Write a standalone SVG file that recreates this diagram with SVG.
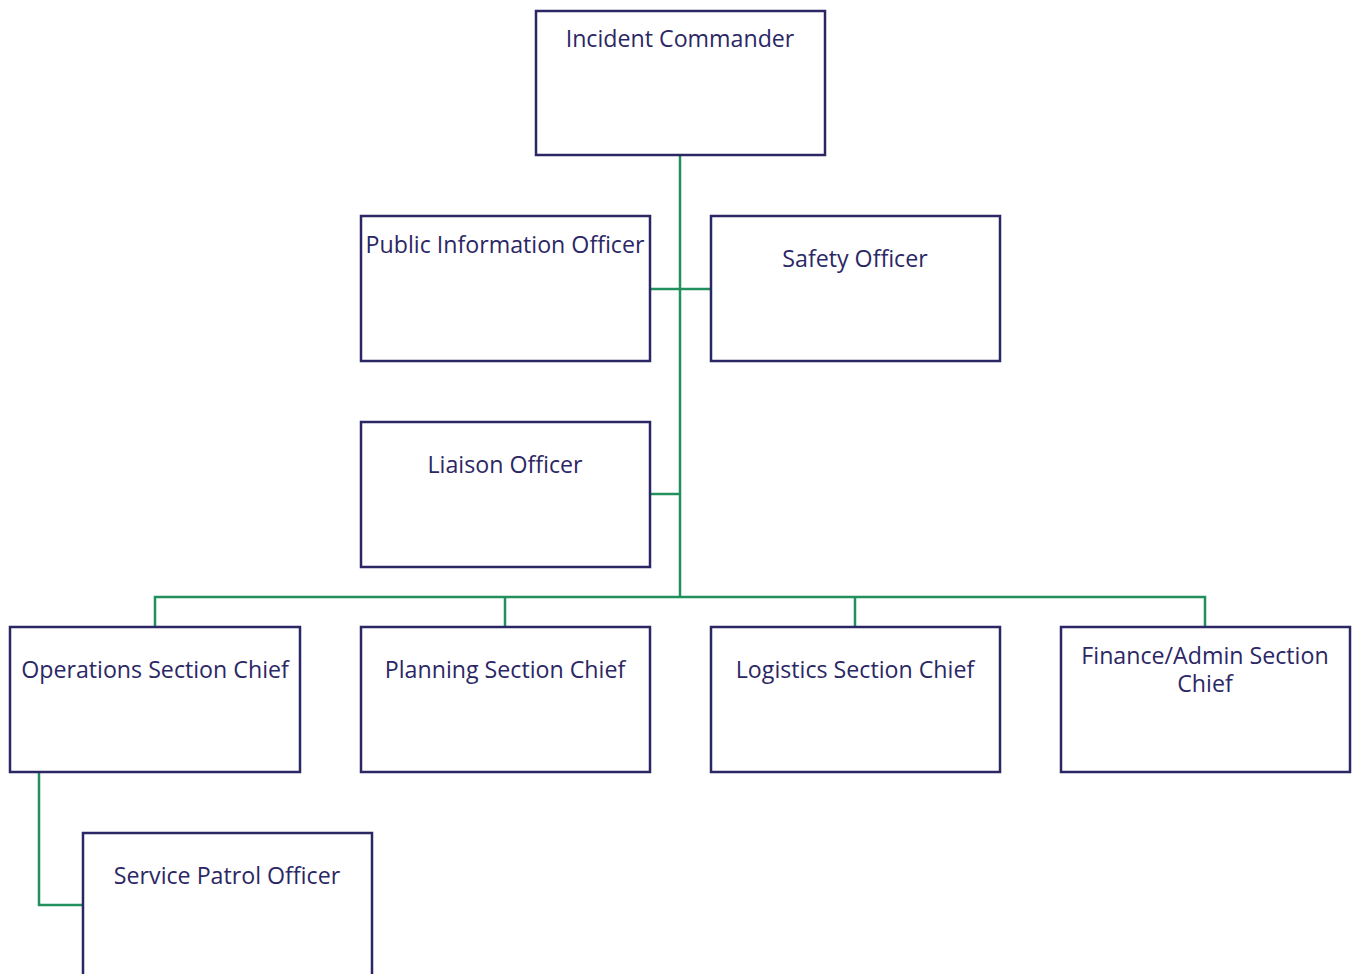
<svg xmlns="http://www.w3.org/2000/svg" width="1353" height="974" viewBox="0 0 1353 974">
<style>
.box{fill:#fff;stroke:#2b2765;stroke-width:2.5}
.lbl{font-family:"Open Sans","Liberation Sans",sans-serif;font-size:23.2px;fill:#2b2765;text-anchor:middle}
.conn{fill:none;stroke:#22905c;stroke-width:2.5}
</style>
<rect width="1353" height="974" fill="#fff"/>
<g id="connectors">
<path class="conn" d="M680,155 V597"/>
<path class="conn" d="M650,289 H711"/>
<path class="conn" d="M650,494 H680"/>
<path class="conn" d="M155,627 V597 H1205 V627"/>
<path class="conn" d="M505,597 V627"/>
<path class="conn" d="M855,597 V627"/>
<path class="conn" d="M39,772 V905 H83"/>
</g>
<g id="incident-commander"><rect class="box" x="536" y="11" width="289" height="144"/><text class="lbl" x="680" y="47">Incident Commander</text></g>
<g id="public-information-officer"><rect class="box" x="361" y="216" width="289" height="145"/><text class="lbl" x="505" y="253">Public Information Officer</text></g>
<g id="safety-officer"><rect class="box" x="711" y="216" width="289" height="145"/><text class="lbl" x="855" y="267">Safety Officer</text></g>
<g id="liaison-officer"><rect class="box" x="361" y="422" width="289" height="145"/><text class="lbl" x="505" y="473">Liaison Officer</text></g>
<g id="operations-section-chief"><rect class="box" x="10" y="627" width="290" height="145"/><text class="lbl" x="155" y="678">Operations Section Chief</text></g>
<g id="planning-section-chief"><rect class="box" x="361" y="627" width="289" height="145"/><text class="lbl" x="505" y="678">Planning Section Chief</text></g>
<g id="logistics-section-chief"><rect class="box" x="711" y="627" width="289" height="145"/><text class="lbl" x="855" y="678">Logistics Section Chief</text></g>
<g id="finance-admin-section-chief"><rect class="box" x="1061" y="627" width="289" height="145"/><text class="lbl" x="1205" y="664">Finance/Admin Section<tspan x="1205" dy="28">Chief</tspan></text></g>
<g id="service-patrol-officer"><rect class="box" x="83" y="833" width="289" height="160"/><text class="lbl" x="227" y="884">Service Patrol Officer</text></g>
</svg>
